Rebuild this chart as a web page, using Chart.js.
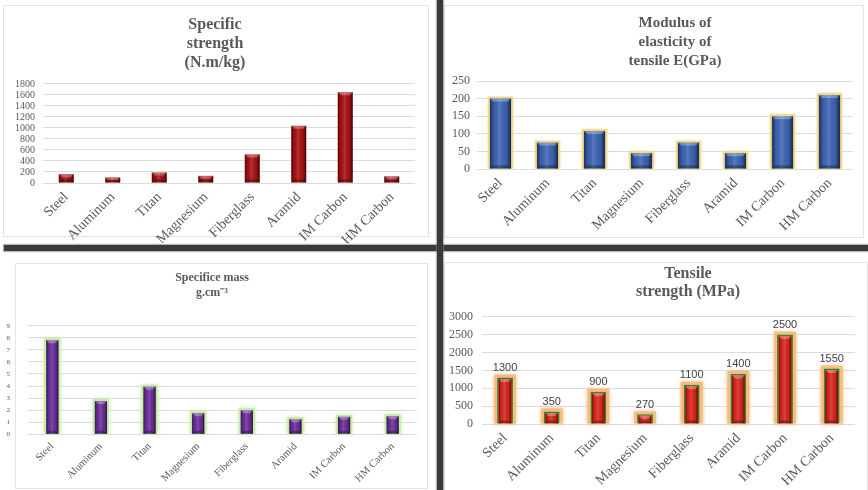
<!DOCTYPE html>
<html>
<head>
<meta charset="utf-8">
<script src="https://cdn.jsdelivr.net/npm/chart.js@4.4.1/dist/chart.umd.min.js"></script>
<style>
  html, body { margin: 0; padding: 0; background: #fff; overflow: hidden; width: 868px; height: 490px; }
  .panel { position: absolute; box-sizing: border-box; border: 1px solid #e4e4e4; background: #fff; }
  canvas { position: absolute; }
  .sep { position: absolute; background: #3a3a3a; box-shadow: 0 0 1px 1px rgba(120,120,120,0.55); }
</style>
</head>
<body>
<div class="panel" style="left:3px;top:5px;width:426px;height:232px"></div>
<div class="panel" style="left:444px;top:5px;width:420px;height:233px"></div>
<div class="panel" style="left:15px;top:263px;width:413px;height:226px"></div>
<div class="panel" style="left:444px;top:262px;width:424px;height:230px"></div>

<canvas id="specStrength" width="425" height="240" style="left:3px;top:3px"></canvas>
<canvas id="modulus" width="420" height="240" style="left:444px;top:3px"></canvas>
<canvas id="specMass" width="424" height="232" style="left:3px;top:256px"></canvas>
<canvas id="tensile" width="422" height="238" style="left:444px;top:252px"></canvas>

<div class="sep" style="left:4px;top:245px;width:864px;height:6px"></div>
<div class="sep" style="left:437px;top:0px;width:6px;height:490px"></div>

<script>
// Materials compared in every panel
const materials = ['Steel', 'Aluminum', 'Titan', 'Magnesium', 'Fiberglass', 'Aramid', 'IM Carbon', 'HM Carbon'];

// Specific strength (N.m/kg)
const specificStrength = [160, 100, 190, 130, 520, 1040, 1650, 120];
// Modulus of elasticity of tensile E (GPa)
const elasticModulus = [200, 75, 108, 45, 75, 45, 150, 210];
// Specific mass (g.cm^-3)
const specificMass = [7.8, 2.75, 3.95, 1.75, 2.0, 1.25, 1.45, 1.5];
// Tensile strength (MPa)
const tensileStrength = [1300, 350, 900, 270, 1100, 1400, 2500, 1550];

// Value axis ranges: [max, step]
const strengthAxis = [1800, 200];
const modulusAxis = [250, 50];
const massAxis = [9, 1];
const tensileAxis = [3000, 500];

const SERIF = "'Liberation Serif', 'Times New Roman', serif";
const TEXT = '#595959';

// Bevelled bar look, optional glow halo and value labels
const barLook = {
  id: 'barLook',
  beforeDatasetsDraw(chart, args, opts) {
    if (!opts.glow) return;
    const ctx = chart.ctx;
    chart.getDatasetMeta(0).data.forEach(bar => {
      const p = bar.getProps(['x', 'y', 'base', 'width'], true);
      const g = opts.glowSize;
      ctx.save();
      ctx.shadowColor = opts.glow;
      ctx.shadowBlur = opts.glowBlur;
      ctx.fillStyle = opts.glow;
      ctx.fillRect(p.x - p.width / 2 - g, p.y - g, p.width + 2 * g, p.base - p.y + g);
      ctx.restore();
    });
  },
  afterDatasetsDraw(chart, args, opts) {
    const ctx = chart.ctx;
    const meta = chart.getDatasetMeta(0);
    meta.data.forEach((bar, i) => {
      const p = bar.getProps(['x', 'y', 'base', 'width'], true);
      const bw = bar.options.borderWidth || 0;
      const l = p.x - p.width / 2 + bw, r = p.x + p.width / 2 - bw;
      const t = p.y + bw, b = p.base;
      const w = r - l;
      ctx.save();
      const grad = ctx.createLinearGradient(l, 0, r, 0);
      grad.addColorStop(0, 'rgba(0,0,0,0.5)');
      grad.addColorStop(0.2, 'rgba(0,0,0,0.04)');
      grad.addColorStop(0.45, 'rgba(255,255,255,0.14)');
      grad.addColorStop(0.78, 'rgba(0,0,0,0.06)');
      grad.addColorStop(1, 'rgba(0,0,0,0.6)');
      ctx.fillStyle = grad;
      ctx.fillRect(l, t, w, b - t);
      const bev = Math.min(3, (b - t) / 2);
      ctx.fillStyle = 'rgba(255,255,255,0.3)';
      ctx.beginPath();
      ctx.moveTo(l, t); ctx.lineTo(r, t); ctx.lineTo(r - bev, t + bev); ctx.lineTo(l + bev, t + bev);
      ctx.closePath(); ctx.fill();
      ctx.fillStyle = 'rgba(0,0,0,0.3)';
      ctx.beginPath();
      ctx.moveTo(l, b); ctx.lineTo(r, b); ctx.lineTo(r - bev, b - bev); ctx.lineTo(l + bev, b - bev);
      ctx.closePath(); ctx.fill();
      ctx.restore();

      if (opts.valueLabels) {
        const v = chart.data.datasets[0].data[i];
        ctx.save();
        ctx.font = "11px 'Liberation Sans', Arial, sans-serif";
        ctx.fillStyle = '#404040';
        ctx.textAlign = 'center';
        ctx.textBaseline = 'middle';
        ctx.fillText(String(v), p.x, p.y - 9.5);
        ctx.restore();
      }
    });
  }
};

// Places the multi-line title at a chosen horizontal centre
const titlePlace = {
  id: 'titlePlace',
  afterLayout(chart, args, opts) {
    const t = chart.titleBlock;
    if (!t || opts.cx === undefined) return;
    const w = t.right - t.left;
    t.left = opts.cx - w / 2;
    t.right = opts.cx + w / 2;
  }
};

function barChart(id, s) {
  return new Chart(document.getElementById(id), {
    type: 'bar',
    data: {
      labels: materials,
      datasets: [{
        data: s.values,
        backgroundColor: s.color,
        borderColor: s.borderColor || s.color,
        borderWidth: s.borderWidth || 0,
        barPercentage: s.barPct,
        categoryPercentage: 1
      }]
    },
    options: {
      responsive: false,
      animation: false,
      devicePixelRatio: 1,
      layout: { padding: { left: 0, right: s.padR, top: 0, bottom: 0 } },
      plugins: {
        legend: { display: false },
        tooltip: { enabled: false },
        title: {
          display: true,
          text: s.title,
          color: TEXT,
          font: { family: SERIF, size: s.titleSize, weight: 'bold', lineHeight: s.titleLH },
          padding: { top: s.titlePadTop, bottom: s.titlePadBottom }
        },
        titlePlace: { cx: s.titleCx },
        barLook: { glow: s.glow, glowSize: s.glowSize, glowBlur: s.glowBlur, valueLabels: !!s.valueLabels }
      },
      scales: {
        x: {
          grid: { display: false, drawTicks: false },
          border: { display: false },
          ticks: {
            minRotation: 45, maxRotation: 45, autoSkip: false,
            color: TEXT, padding: s.xPad,
            font: { family: SERIF, size: s.xFont }
          },
          afterFit: sc => { sc.height = s.xHeight; }
        },
        y: {
          min: 0, max: s.axis[0],
          grid: { color: '#dcdcdc', drawTicks: false, lineWidth: 1 },
          border: { display: false },
          ticks: {
            stepSize: s.axis[1], autoSkip: false, color: TEXT, padding: s.yPad,
            font: { family: SERIF, size: s.yFont },
            callback: v => String(v)
          },
          afterFit: sc => { sc.width = s.yWidth; }
        }
      }
    },
    plugins: [barLook, titlePlace]
  });
}

barChart('specStrength', {
  values: specificStrength, axis: strengthAxis,
  title: ['Specific', 'strength', '(N.m/kg)'],
  titleSize: 16, titleLH: 1.17, titlePadTop: 12.6, titlePadBottom: 12.2, titleCx: 212,
  color: '#a81010', barPct: 0.32,
  padR: 13, yWidth: 40, yPad: 8, yFont: 10,
  xHeight: 60, xPad: 6, xFont: 14
});

barChart('modulus', {
  values: elasticModulus, axis: modulusAxis,
  title: ['Modulus of', 'elasticity of', 'tensile E(GPa)'],
  titleSize: 15, titleLH: 1.25, titlePadTop: 10.9, titlePadBottom: 10.85, titleCx: 231,
  color: '#3c63b4', barPct: 0.45,
  glow: '#f2d98c', glowSize: 2, glowBlur: 2,
  padR: 11, yWidth: 33, yPad: 7, yFont: 12,
  xHeight: 74, xPad: 6, xFont: 14
});

barChart('specMass', {
  values: specificMass, axis: massAxis,
  title: ['Specifice mass', 'g.cm\u207B\u00B3'],
  titleSize: 12, titleLH: 1.2, titlePadTop: 15.1, titlePadBottom: 25.8, titleCx: 209,
  color: '#6b2d9b', barPct: 0.25,
  glow: '#c4eca4', glowSize: 2, glowBlur: 4,
  padR: 10, yWidth: 25, yPad: 18, yFont: 7,
  xHeight: 53.7, xPad: 6, xFont: 10.5
});

barChart('tensile', {
  values: tensileStrength, axis: tensileAxis,
  title: ['Tensile', 'strength (MPa)'],
  titleSize: 16, titleLH: 1.1, titlePadTop: 13.2, titlePadBottom: 16.3, titleCx: 244,
  color: '#d9261c', borderColor: '#2f8a36', borderWidth: 1.5, barPct: 0.34,
  glow: '#f8bb80', glowSize: 3, glowBlur: 4,
  valueLabels: true,
  padR: 11, yWidth: 37.7, yPad: 8.7, yFont: 12,
  xHeight: 66, xPad: 6, xFont: 14
});
</script>
</body>
</html>
